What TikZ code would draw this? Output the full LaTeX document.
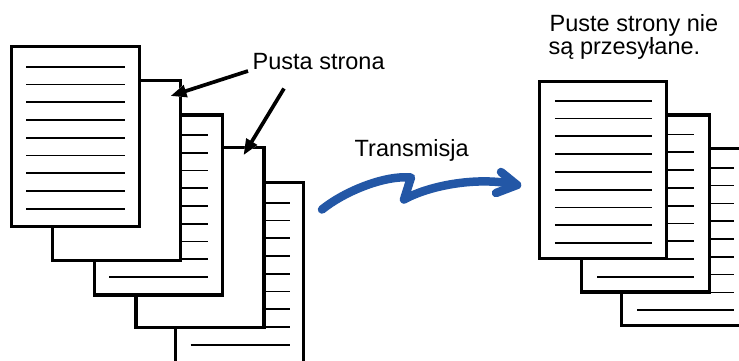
\documentclass[tikz,border=0pt]{standalone}
\usepackage{fontspec}
\setmainfont{Liberation Sans}
\usetikzlibrary{arrows.meta,calc}
\definecolor{wave}{RGB}{35,87,166}
\tikzset{
  sheet/.style={rectangle, draw=black, fill=white, line width=3.3pt,
    minimum width=128pt, minimum height=180pt, inner sep=0pt, outer sep=0pt,
    anchor=north west},
  sheetR/.style={sheet, minimum width=127.5pt, minimum height=177pt},
  txtline/.style={line width=1.7pt},
  lbl/.style={font=\fontsize{23.5}{25}\selectfont, inner sep=0pt, anchor=base west},
  pointer/.style={line width=3.7pt, -{Triangle[length=16pt,width=12pt]},
    preaction={draw=white, line width=8.5pt, -{Triangle[length=16pt,width=12pt]}}},
  wavy/.style={draw=wave, line width=8.5pt, line cap=round, line join=round},
}
\newcommand{\sheetlines}[5]{% node, x-offset, first y, spacing, length
  \foreach \k in {0,...,8}
    \draw[txtline] ($(#1.north west)+(#2,#3+#4*\k)$) -- ++(#5,0);
}
\begin{document}
\begin{tikzpicture}[x=1pt,y=-1pt]
\useasboundingbox (0,0) rectangle (739,360);
\clip (0,0) rectangle (739,360);
\fill[white] (0,0) rectangle (739,360);
% left stack (back to front)
\node[sheet] (p5) at (175.7,182.7) {};
\sheetlines{p5}{15}{20}{17.75}{99}
\node[sheet] (p4) at (136,147.7) {};
\node[sheet] (p3) at (94.3,115) {};
\sheetlines{p3}{15}{20}{17.75}{99}
\node[sheet] (p2) at (52.3,80.7) {};
\node[sheet] (p1) at (11.3,46.7) {};
\sheetlines{p1}{15}{20}{17.75}{99}
% right stack
\node[sheetR] (q3) at (621.7,148.3) {};
\sheetlines{q3}{15.5}{19.5}{17.8}{97}
\node[sheetR] (q2) at (581.7,115) {};
\sheetlines{q2}{15.5}{19.5}{17.8}{97}
\node[sheetR] (q1) at (539.3,81.7) {};
\sheetlines{q1}{15.5}{19}{17.8}{97}
% labels
\node[lbl] (pusta) at (252.5,69.3) {Pusta strona};
\node[lbl] (trans) at (354.5,156) {Transmisja};
\node[lbl] (puste1) at (549.5,31.7) {Puste strony nie};
\node[lbl] (puste2) at (548.5,54.8) {są przesyłane.};
% pointers
\coordinate (a1s) at (248,71);
\coordinate (a1e) at ($(p2.north east)+(-9.8,15.3)$);
\coordinate (a2s) at (284,88.5);
\coordinate (a2e) at ($(p4.north west)+(107.5,7.5)$);
\draw[pointer] (a1s) -- (a1e);
\draw[pointer] (a2s) -- (a2e);
% transmission arrow
\coordinate (ws) at (322,209.5);
\coordinate (wz1) at (411,177.5);
\coordinate (wz2) at (404,199.5);
\coordinate (we) at (517,185);
\coordinate (wa) at (501,172);
\coordinate (wb) at (496,193);
\draw[wavy] (ws) .. controls (345,191) and (385,175) .. (wz1) -- (wz2)
  .. controls (430,185) and (480,176) .. (we);
\draw[wavy] (wa) -- (we) -- (wb);
\end{tikzpicture}
\end{document}
